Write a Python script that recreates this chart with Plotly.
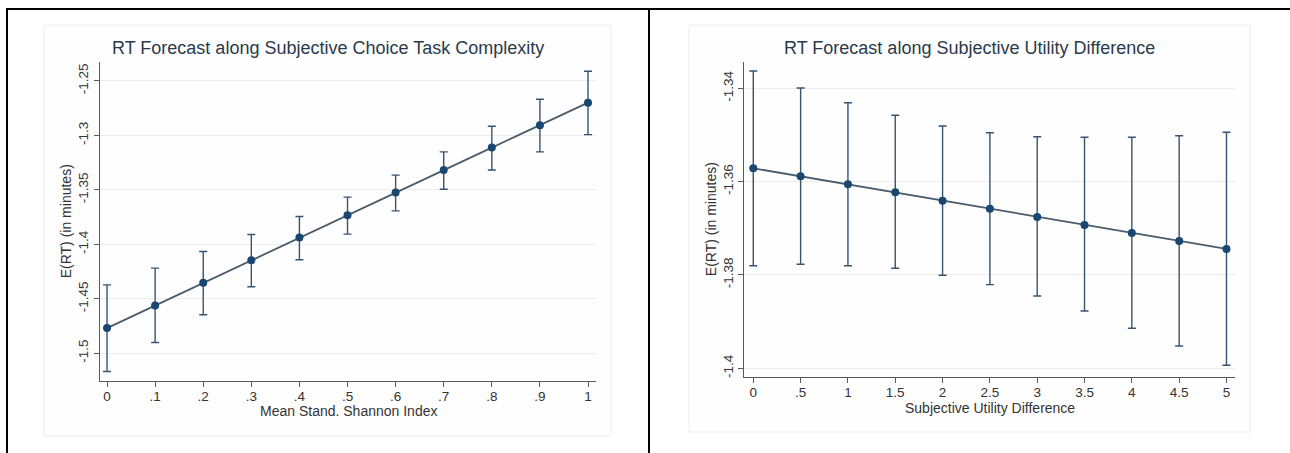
import plotly.graph_objects as go

W, H = 1290, 453

# ---------------- data ----------------
shannon_x = [0, 0.1, 0.2, 0.3, 0.4, 0.5, 0.6, 0.7, 0.8, 0.9, 1.0]
shannon_est = [-1.4769, -1.4561, -1.4353, -1.4145, -1.3938, -1.3732, -1.3525, -1.3317, -1.3112, -1.2906, -1.2699]
shannon_lo = [-1.5167, -1.4901, -1.4647, -1.4390, -1.4142, -1.3906, -1.3693, -1.3494, -1.3317, -1.3151, -1.2993]
shannon_hi = [-1.4372, -1.4218, -1.4066, -1.3910, -1.3745, -1.3567, -1.3365, -1.3151, -1.2916, -1.2668, -1.2411]
shannon_xticks = [0, 0.1, 0.2, 0.3, 0.4, 0.5, 0.6, 0.7, 0.8, 0.9, 1.0]
shannon_xticktext = ["0", ".1", ".2", ".3", ".4", ".5", ".6", ".7", ".8", ".9", "1"]
shannon_yticks = [-1.5, -1.45, -1.4, -1.35, -1.3, -1.25]
shannon_yticktext = ["-1.5", "-1.45", "-1.4", "-1.35", "-1.3", "-1.25"]

util_x = [0, 0.5, 1, 1.5, 2, 2.5, 3, 3.5, 4, 4.5, 5]
util_est = [-1.35714, -1.35886, -1.36057, -1.36228, -1.36408, -1.36580, -1.36758, -1.36929, -1.37101, -1.37272, -1.37443]
util_lo = [-1.37801, -1.37771, -1.37801, -1.37857, -1.38007, -1.38208, -1.38450, -1.38772, -1.39143, -1.39522, -1.39935]
util_hi = [-1.33629, -1.33994, -1.34309, -1.34579, -1.34808, -1.34951, -1.35037, -1.35050, -1.35050, -1.35016, -1.34943]
util_xticks = [0, 0.5, 1, 1.5, 2, 2.5, 3, 3.5, 4, 4.5, 5]
util_xticktext = ["0", ".5", "1", "1.5", "2", "2.5", "3", "3.5", "4", "4.5", "5"]
util_yticks = [-1.4, -1.38, -1.36, -1.34]
util_yticktext = ["-1.4", "-1.38", "-1.36", "-1.34"]

titles = ["RT Forecast along Subjective Choice Task Complexity",
          "RT Forecast along Subjective Utility Difference"]
xtitles = ["Mean Stand. Shannon Index", "Subjective Utility Difference"]
ytitle = "E(RT) (in minutes)"

# ---------------- styles ----------------
FONT = "Liberation Sans, Arial, sans-serif"
MARKER = "#1a476f"
LINE = "#4a5b6c"
ERR = "#36546f"
AXIS = "#5a5a5a"
TXT = "#333333"
TITLE = "#2b3a4b"
GRID = "#ececec"

def px(x):
    return x / W

def py(y):
    return 1 - y / H

fig = go.Figure()

def add_series(x, est, lo, hi, xa, ya):
    plus = [h - e for h, e in zip(hi, est)]
    minus = [e - l for e, l in zip(est, lo)]
    fig.add_trace(go.Scatter(
        x=x, y=est, mode="lines+markers", xaxis=xa, yaxis=ya,
        line=dict(color=LINE, width=1.8),
        marker=dict(color=MARKER, size=8),
        error_y=dict(type="data", symmetric=False, array=plus, arrayminus=minus,
                     color=ERR, thickness=1.4, width=4),
        showlegend=False, hoverinfo="skip"))

add_series(shannon_x, shannon_est, shannon_lo, shannon_hi, "x", "y")
add_series(util_x, util_est, util_lo, util_hi, "x2", "y2")

common_x = dict(showline=True, linecolor=AXIS, linewidth=1.3, ticks="outside",
                ticklen=5, tickcolor=AXIS, tickwidth=1, showgrid=False, zeroline=False,
                ticklabelstandoff=-2,
                tickfont=dict(family=FONT, size=13.5, color=TXT), mirror=False)
common_y = dict(showline=True, linecolor=AXIS, linewidth=1.3, ticks="outside",
                ticklen=5, tickcolor=AXIS, tickwidth=1, showgrid=True, gridcolor=GRID,
                gridwidth=1, zeroline=False, tickangle=-90,
                tickfont=dict(family=FONT, size=13.5, color=TXT), mirror=False)

fig.update_layout(
    width=W, height=H,
    margin=dict(l=0, r=0, t=0, b=0),
    paper_bgcolor="white", plot_bgcolor="rgba(0,0,0,0)",
    xaxis=dict(domain=[px(100), px(596)], range=[-0.0146, 1.0166],
               tickvals=shannon_xticks, ticktext=shannon_xticktext, anchor="y", **common_x),
    yaxis=dict(domain=[py(380.7), py(62)], range=[-1.5252, -1.2326],
               tickvals=shannon_yticks, ticktext=shannon_yticktext, anchor="x", **common_y),
    xaxis2=dict(domain=[px(744.3), px(1235)], range=[-0.095, 5.09],
                tickvals=util_xticks, ticktext=util_xticktext, anchor="y2", **common_x),
    yaxis2=dict(domain=[py(376.7), py(61.7)], range=[-1.4018, -1.3343],
                tickvals=util_yticks, ticktext=util_yticktext, anchor="x2", **common_y),
)

shapes = []
# graph-region boxes
for (x0, x1, y0, y1) in [(44, 611, 25, 436), (689, 1250, 25, 432)]:
    shapes.append(dict(type="rect", xref="paper", yref="paper",
                       x0=px(x0), x1=px(x1), y0=py(y1), y1=py(y0),
                       line=dict(color="#ededed", width=1), fillcolor="#fefefe", layer="below"))
# outer table frame
shapes.append(dict(type="line", xref="paper", yref="paper", x0=px(6), x1=1, y0=py(9), y1=py(9),
                   line=dict(color="black", width=2)))
shapes.append(dict(type="line", xref="paper", yref="paper", x0=px(7), x1=px(7), y0=0, y1=py(8),
                   line=dict(color="black", width=2)))
shapes.append(dict(type="line", xref="paper", yref="paper", x0=px(649), x1=px(649), y0=0, y1=py(8),
                   line=dict(color="black", width=2)))
fig.update_layout(shapes=shapes)

ann = []
# titles
ann.append(dict(text=titles[0], x=px(327.5), y=py(48), xref="paper", yref="paper",
                showarrow=False, xanchor="center", yanchor="middle",
                font=dict(family=FONT, size=18, color=TITLE)))
ann.append(dict(text=titles[1], x=px(969.5), y=py(48), xref="paper", yref="paper",
                showarrow=False, xanchor="center", yanchor="middle",
                font=dict(family=FONT, size=18, color=TITLE)))
# x-axis titles
ann.append(dict(text=xtitles[0], x=px(348), y=py(411), xref="paper", yref="paper",
                showarrow=False, xanchor="center", yanchor="middle",
                font=dict(family=FONT, size=14, color=TXT)))
ann.append(dict(text=xtitles[1], x=px(990), y=py(407.5), xref="paper", yref="paper",
                showarrow=False, xanchor="center", yanchor="middle",
                font=dict(family=FONT, size=14, color=TXT)))
# y-axis titles
ann.append(dict(text=ytitle, x=px(66), y=py(221.3), xref="paper", yref="paper",
                showarrow=False, xanchor="center", yanchor="middle", textangle=-90,
                font=dict(family=FONT, size=14, color=TXT)))
ann.append(dict(text=ytitle, x=px(711), y=py(219.2), xref="paper", yref="paper",
                showarrow=False, xanchor="center", yanchor="middle", textangle=-90,
                font=dict(family=FONT, size=14, color=TXT)))
fig.update_layout(annotations=ann)

fig.write_html("out.html")
